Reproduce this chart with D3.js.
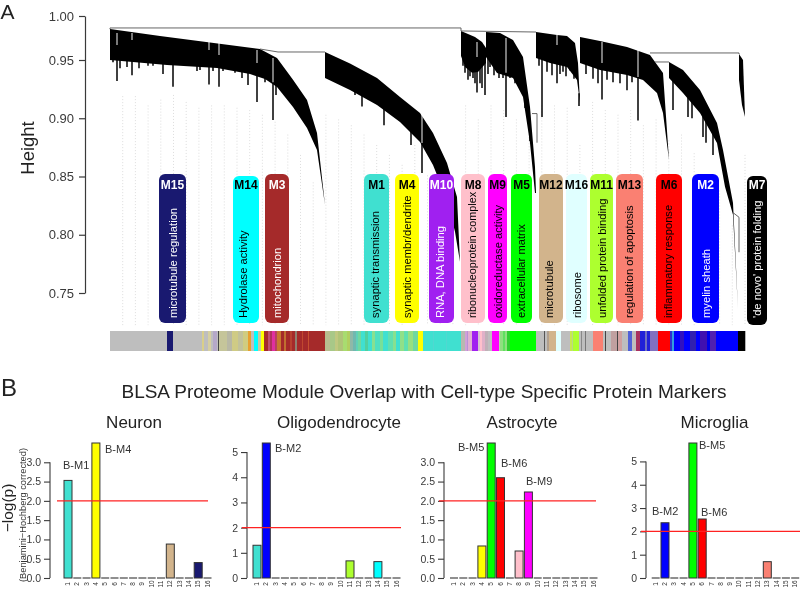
<!DOCTYPE html>
<html><head><meta charset="utf-8">
<script src="https://cdn.jsdelivr.net/npm/d3@7"></script>
<style>html,body{margin:0;padding:0;background:#fff}svg{display:block;filter:blur(0.35px)}text{font-family:"Liberation Sans",Arial,sans-serif}</style>
</head><body><svg id="c" width="800" height="589"></svg>
<script>
// ---------- dendrogram data (leaf rank, height) ----------
const heightTicks=[0.75,0.80,0.85,0.90,0.95,1.00];
const topRanks=[
 [0,50,100,150,167,183,197,207,215],
 [215,240,267,290,310,323,337,347,350],
 [351,365,372,376],
 [376,390,403,413,420,425,426],
 [426,447,457,465,468,470],
 [470,490,517,540,553,559],
 [559,573,590,607,613,623,628],
 [629,633,635]];
const topHeights=[
 [.9852,.9773,.9698,.9625,.9523,.933,.9157,.8874,.8256],
 [.9591,.947,.9346,.9183,.9045,.8874,.8616,.8325,.7768],
 [.983,.9761,.9705,.9636],
 [.9818,.9807,.9727,.9534,.9097,.8581,.8359],
 [.9818,.9784,.9773,.9693,.9474,.9131],
 [.9761,.9716,.9648,.9557,.9389,.8642],
 [.9483,.9414,.9243,.896,.8728,.8273,.7355],
 [.9568,.95,.9011]];
const bottomRanks=[
 [0,57,107,140,155,167,183,197,207,215],
 [215,240,267,290,310,323,337,345,350],
 [351,355,362,368,376],
 [376,387,403,413,420,425,426],
 [426,440,457,467,470],
 [470,490,517,533,547,553,559],
 [559,573,590,607,615,623,628],
 [629,632,635]];
const bottomHeights=[
 [.95,.9457,.9431,.938,.9337,.9268,.9097,.8917,.8728,.8256],
 [.9346,.9243,.9114,.8968,.8797,.8599,.83,.8025,.7768],
 [.9545,.944,.939,.9397,.9474],
 [.9534,.9389,.9346,.9183,.8788,.8359,.8359],
 [.9523,.9474,.944,.9329,.9131],
 [.9474,.9414,.9371,.9329,.9217,.9045,.8642],
 [.9346,.9217,.9045,.8788,.8411,.8171,.7355],
 [.933,.9114,.9011]];
const spikeRank=[3,7,10,17,22,29,38,43,53,63,68,87,90,99,103,109,113,125,132,138,147,155,163,166,
 245,252,274,301,312,
 353,355,358,360,363,365,367,370,372,375,378,380,384,389,393,396,400,405,410,415,420,
 429,432,437,442,447,450,453,456,460,464,469,
 476,483,488,492,497,503,510,517,522,528,
 563,578,582,593,596,603];
const spikeEnd=[.948,.932,.943,.944,.937,.943,.945,.945,.938,.927,.9457,.9406,.9414,.929,.9406,.927,.9406,.939,.9346,.9285,.914,.931,.8985,.92,
 .92,.91,.894,.877,.853,
 .945,.939,.933,.936,.9346,.93,.922,.93,.926,.92,.938,.944,.937,.9346,.9346,.901,.9346,.93,.926,.916,.895,
 .945,.901,.94,.937,.93,.938,.94,.936,.941,.934,.9105,
 .938,.934,.93,.916,.933,.931,.93,.924,.931,.898,
 .907,.901,.9,.884,.879,.8685];
const slitRank=[7,22,99,109,147,163,312,367,396,447,492,528];
const slitTop=[.9807,.9807,.9705,.9693,.9614,.9523,.9037,.9705,.975,.9784,.9705,.9614];
const slitEnd=[.967,.9727,.9614,.9557,.9474,.931,.8788,.9534,.939,.967,.9474,.9354];
const connectors=[
 [[0,.9864],[351,.9864],[351,.983]],[[0,.9864],[0,.985]],
 [[150,.9625],[168,.9591],[215,.9591]],
 [[351,.983],[426,.9818]],
 [[540,.958],[629,.958],[629,.9568]],
 [[545,.9483],[559,.9483]],
 [[422,.904],[427,.904],[427,.879]],
 [[623,.819],[629,.815],[629,.785]]];
const guideTop=[.919,.919,.911,.916,.92,.914,.909,.911,.911,.909,.907,.903,.897,.886,.8685,.845,.903,.899,.894,.886,.877,.8685,.86,.877,.851,.825,.804,.911,.899,.911,.907,.899,.894,.911,.911,.909,.877,.914,.907,.903,.907,.894,.899,.881,.886,.87,.851,.838,.808,.8685];
// ---------- module data ----------
const moduleNames=["M15","M14","M3","M1","M4","M10","M8","M9","M5","M12","M16","M11","M13","M6","M2","M7"];
const moduleTerms=["microtubule regulation","Hydrolase activity","mitochondrion","synaptic transmission","synaptic membr/dendrite","RNA, DNA binding","ribonucleoprotein complex","oxidoreductase activity","extracellular matrix","microtubule","ribosome","unfolded protein binding","regulation of apoptosis","inflammatory response","myelin sheath","'de novo' protein folding"];
const moduleColors=["#191970","#00FFFF","#A52A2A","#40E0D0","#FFFF00","#A020F0","#FFC0CB","#FF00FF","#00FF00","#D2B48C","#E0FFFF","#ADFF2F","#FA8072","#FF0000","#0000FF","#000000"];
const moduleInk=["#fff","#000","#fff","#000","#000","#fff","#000","#000","#000","#000","#000","#000","#000","#000","#fff","#fff"];
const stripColors=["#BEBEBE","#191970","#BEBEBE","#D9CF8A","#BEBEBE","#D6CFA0","#BEBEBE","#B5A8C8","#BEBEBE","#444444","#C5C59A","#B8B8A5","#CFCB85","#C2C29A","#D0CC80","#E8A030","#BEBEBE","#00FFFF","#C8C8A0","#FFFF00","#A52A2A","#C05070","#B03060","#E030A0","#B84060","#C87830","#A52A2A","#C07030","#A52A2A","#B84030","#A52A2A","#908070","#A52A2A","#C04830","#A52A2A","#C85030","#A52A2A",
 "#B8BC90","#A8C888","#C0C880","#B0C478","#A8DC70","#B0D060","#8FB8A8","#70B8B0","#60D0B8","#70D8A0","#40E0D0","#50D0A0","#40E0D0","#88E090","#50E0C0","#78E098","#40E0D0","#60E0B0","#88E090","#40E0D0","#90E088","#60E0B0","#98E080","#70D8A0","#FFFF00","#40E0D0","#50D8D0","#40E0D0","#50D8D0","#40E0D0",
 "#B8B8B0","#D0A0D8","#B890D8","#E0B0D0","#A020F0","#D8C0D0","#FFC0CB","#E0B0C8","#C0B0B8","#BEBEBE","#FF00FF","#B8D8A8","#90E080","#60E060","#90E080","#30D030","#00FF00",
 "#BEBEBE","#555555","#BEBEBE","#B0A090","#D2B48C","#E0FFFF","#BEBEBE","#C8E850","#B8D888","#ADFF2F","#BEBEBE","#888888","#BEBEBE","#777777","#BEBEBE","#FA8072","#BEBEBE","#444444","#BEBEBE","#C0A0A0","#444444","#D0A0A0","#BEBEBE","#5060D8","#BEBEBE","#A83060","#2020D8","#7070C0","#2020D8","#8070C0","#FF0000","#3030D0","#30A0E0","#0000FF","#3010C0","#0000FF","#3020B0","#0000FF","#4010B0","#0000E8","#5020B0","#0000FF","#000000"];
const stripEnds=[57,63,92,94,98,101,103,107,108,109,117,122,128,133,138,141,144,148,151,154,158,160,162,165,167,171,174,176,180,182,185,187,192,193,198,199,215,
 220,225,228,233,237,240,243,246,248,251,255,258,262,265,270,273,278,283,286,290,294,298,303,308,313,323,324,336,337,351,
 355,357,358,362,368,370,372,375,378,382,389,390,393,395,397,400,426,
 434,435,437,439,446,451,460,462,463,469,471,472,475,476,483,493,495,496,501,507,508,512,518,522,526,530,535,537,540,548,560,562,564,570,574,580,586,590,597,600,606,628,635];
// ---------- bar panel data ----------
const barModules=d3.range(1,17);
const barColors=["#40E0D0","#0000FF","#A52A2A","#FFFF00","#00FF00","#FF0000","#000000","#FFC0CB","#FF00FF","#A020F0","#ADFF2F","#D2B48C","#FA8072","#00FFFF","#191970","#E0FFFF"];
const neuronValues=[2.53,0,0,3.5,0,0,0,0,0,0,0,.88,0,0,.4,0];
const oligoValues=[1.3,5.36,0,0,0,0,0,0,0,0,.68,0,0,.65,0,0];
const astroValues=[0,0,0,.83,3.5,2.6,0,.7,2.23,0,0,0,0,0,0,0];
const microValues=[0,2.37,0,0,5.79,2.53,0,0,0,0,0,0,.7,0,0,0];
const panelTitles=["Neuron","Oligodendrocyte","Astrocyte","Microglia"];
const neuronTicks=["0.0","0.5","1.0","1.5","2.0","2.5","3.0"], intTicks=["0","1","2","3","4","5"];
const neuronLabels=["B-M1","B-M4"],oligoLabels=["B-M2"],astroLabels=["B-M5","B-M6","B-M9"],microLabels=["B-M5","B-M2","B-M6"];
const threshold=2;

// ---------- layout ----------
const svg=d3.select("#c");
const ink="#3a3a3a";
const x=d3.scaleLinear().domain([0,635]).range([110,745]);
const y=d3.scaleLinear().domain([.75,.95,1]).range([293,60,16]);
const bottomH=.7224;

// guides
const guideRanks=guideTop.map((_,i)=>12.7*(i+1));
svg.append("g").selectAll("line").data(guideTop).join("line")
 .attr("x1",(d,i)=>x(guideRanks[i])).attr("x2",(d,i)=>x(guideRanks[i]))
 .attr("y1",d=>y(d)).attr("y2",y(bottomH))
 .attr("stroke","#d4d4d4").attr("stroke-width",.8).attr("stroke-dasharray","1 2");

// lobes
const outline=d3.line().x(d=>x(d[0])).y(d=>y(d[1]));
svg.append("g").selectAll("path").data(topRanks).join("path").attr("fill","#000")
 .attr("d",(r,i)=>{
  const t=r.map((v,k)=>[v,topHeights[i][k]]);
  const b=bottomRanks[i].map((v,k)=>[v,bottomHeights[i][k]]).reverse();
  return outline(t.concat(b))+"Z";
 });
// spikes
function bottomEdge(rank){
 for(let i=0;i<bottomRanks.length;i++){const r=bottomRanks[i];
  if(rank>=r[0]&&rank<=r[r.length-1]) return d3.scaleLinear().domain(r).range(bottomHeights[i])(rank);
 }
 return .95;
}
svg.append("g").selectAll("line").data(spikeRank).join("line")
 .attr("x1",d=>x(d)).attr("x2",d=>x(d))
 .attr("y1",d=>y(bottomEdge(d))-2).attr("y2",(d,i)=>y(spikeEnd[i]))
 .attr("stroke","#000").attr("stroke-width",1.5);
svg.append("g").selectAll("line").data(slitRank).join("line")
 .attr("x1",d=>x(d)).attr("x2",d=>x(d))
 .attr("y1",(d,i)=>y(slitTop[i])).attr("y2",(d,i)=>y(slitEnd[i]))
 .attr("stroke","#fff").attr("stroke-opacity",.8).attr("stroke-width",1.2);
svg.append("g").selectAll("path").data(connectors).join("path")
 .attr("d",outline).attr("fill","none").attr("stroke","#555").attr("stroke-width",.9);

// dendrogram axis
const gy=svg.append("g").attr("transform","translate(85,0)")
 .call(d3.axisLeft(y).tickValues(heightTicks).tickFormat(d3.format(".2f")).tickSize(6).tickPadding(5).tickSizeOuter(0));
gy.selectAll("text").attr("font-size",13).attr("fill",ink);
gy.selectAll("line,path").attr("stroke",ink).attr("stroke-width",1.2);
svg.append("text").attr("transform","translate(34,148) rotate(-90)").attr("text-anchor","middle").attr("font-size",18.5).attr("fill","#222").text("Height");
svg.append("text").attr("x",0.5).attr("y",19).attr("font-size",21).attr("fill","#222").text("A");
svg.append("text").attr("x",1).attr("y",396).attr("font-size",24).attr("fill","#222").text("B");

// module pills
const pillLeft=[159,233,265,364,395,429,461,488,511,539,566,590,616,656,692,747];
const pillRight=[186,259,289,389,419,454,485,507,532,563,587,613,643,682,719,767];
const termX=[173,243,277,375,407,440,472,498,521,549,577,602,629,668,706,757];
const pills=svg.append("g");
moduleNames.forEach((m,i)=>{
 const top=(i==1||i==15)?176:174, bot=i==15?325:323;
 pills.append("rect").attr("x",pillLeft[i]).attr("y",top).attr("width",pillRight[i]-pillLeft[i]).attr("height",bot-top).attr("rx",6).attr("fill",moduleColors[i]);
 pills.append("text").attr("x",(pillLeft[i]+pillRight[i])/2).attr("y",top==176?189:188.5).attr("text-anchor","middle").attr("font-size",12).attr("font-weight","bold").attr("fill",moduleInk[i]).text(m);
 pills.append("text").attr("transform",`translate(${termX[i]+4},318) rotate(-90)`).attr("font-size",i==6?10.8:11.2).attr("fill",moduleInk[i]).text(moduleTerms[i]);
});

// colour strip
svg.append("g").selectAll("rect").data(stripColors).join("rect")
 .attr("x",(d,i)=>x(i?stripEnds[i-1]:0)).attr("y",331).attr("height",20)
 .attr("width",(d,i)=>x(stripEnds[i])-x(i?stripEnds[i-1]:0)+.3).attr("fill",d=>d);

// section title
svg.append("text").attr("x",424).attr("y",398).attr("text-anchor","middle").attr("font-size",19).attr("fill","#222").text("BLSA Proteome Module Overlap with Cell-type Specific Protein Markers");

// bar panels
const panels=[
 {v:neuronValues,ax:50,c1:68,top:3.5,tt:neuronTicks,tc:134,rx0:57,rx1:208,lab:neuronLabels,lx:[63,105],ly:[469,453]},
 {v:oligoValues,ax:247,c1:257,top:5.36,tt:intTicks,tc:339,rx0:242,rx1:401,lab:oligoLabels,lx:[275],ly:[452]},
 {v:astroValues,ax:444,c1:454,top:3.5,tt:neuronTicks,tc:522,rx0:439,rx1:596,lab:astroLabels,lx:[458,501,526],ly:[451,467,485]},
 {v:microValues,ax:646,c1:655.7,top:5.79,tt:intTicks,tc:714.5,rx0:641,rx1:800,lab:microLabels,lx:[699,652,701],ly:[449,515,516]}];
panels.forEach((p,k)=>{
 const g=svg.append("g");
 const ys=d3.scaleLinear().domain([0,p.top]).range([578,443]);
 const step=9.3;
 const xb=d3.scaleBand().domain(barModules).range([p.c1-step/2,p.c1-step/2+16*step]).paddingInner(.14).paddingOuter(.07);
 g.selectAll("rect").data(p.v).join("rect")
  .attr("x",(d,i)=>xb(barModules[i])).attr("width",xb.bandwidth())
  .attr("y",d=>ys(d)).attr("height",d=>578-ys(d))
  .attr("fill",(d,i)=>barColors[i]).attr("stroke","#333").attr("stroke-width",1);
 // zero-height bars collapse to a short baseline dash
 g.selectAll(".zero").data(barModules.filter((m,i)=>p.v[i]===0)).join("line")
  .attr("x1",d=>xb(d)).attr("x2",d=>xb(d)+xb.bandwidth()).attr("y1",578).attr("y2",578)
  .attr("stroke","#444").attr("stroke-width",1.2);
 g.selectAll(".xl").data(barModules).join("text")
  .attr("transform",d=>`translate(${xb(d)+xb.bandwidth()/2+2},584) rotate(-90)`)
  .attr("text-anchor","middle").attr("font-size",6.5).attr("fill","#333").text(d=>d);
 const ay=g.append("g").attr("transform",`translate(${p.ax},0)`)
  .call(d3.axisLeft(ys).tickValues(p.tt.map(Number)).tickFormat((d,i)=>p.tt[i]).tickSize(6).tickPadding(3).tickSizeOuter(0));
 ay.select("path").attr("d",`M0,${ys(+p.tt[p.tt.length-1])}V578`);
 ay.selectAll("text").attr("font-size",10.5).attr("fill",ink);
 ay.selectAll("line,path").attr("stroke",ink).attr("stroke-width",1.1);
 g.append("line").attr("x1",p.rx0).attr("x2",p.rx1).attr("y1",ys(threshold)).attr("y2",ys(threshold)).attr("stroke","#F22").attr("stroke-width",1.1);
 g.append("text").attr("x",p.tc).attr("y",428).attr("text-anchor","middle").attr("font-size",17).attr("fill","#222").text(panelTitles[k]);
 p.lab.forEach((l,i)=>g.append("text").attr("x",p.lx[i]).attr("y",p.ly[i]).attr("font-size",11).attr("fill","#333").text(l));
});
svg.append("text").attr("transform","translate(13,508) rotate(-90)").attr("text-anchor","middle").attr("font-size",15.5).attr("fill","#222").text("\u2212log(p)");
svg.append("text").attr("transform","translate(26,515) rotate(-90)").attr("text-anchor","middle").attr("font-size",9.3).attr("fill","#333").text("(Benjamini\u2212Hochberg corrected)");
</script></body></html>
